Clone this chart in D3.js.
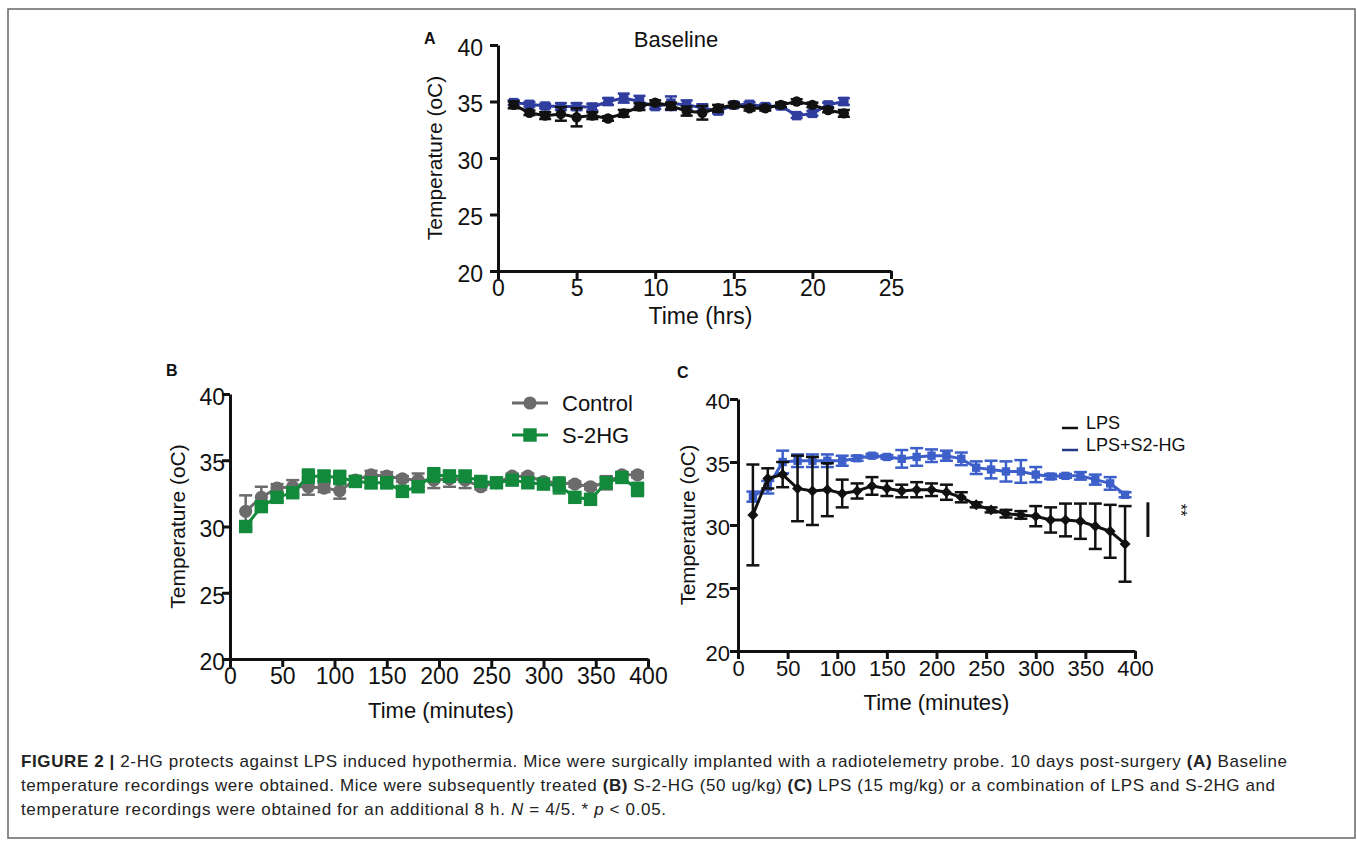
<!DOCTYPE html>
<html>
<head>
<meta charset="utf-8">
<script src="https://cdn.jsdelivr.net/npm/d3@7"></script>
<style>
body { margin: 0; background: #fff; }
svg { display: block; font-family: "Liberation Sans", Arial, sans-serif; }
.axis path, .axis line { stroke: #111; stroke-width: 3; }
.axis text { fill: #111; }
</style>
</head>
<body>
<div id="fig"></div>
<script>
//--------------------------- DATA ---------------------------//
// Panel A - baseline, time in hours
const hoursA = [1,2,3,4,5,6,7,8,9,10,11,12,13,14,15,16,17,18,19,20,21,22];
const baseBlack = [34.7,34.0,33.75,33.9,33.6,33.75,33.5,33.95,34.55,34.9,34.6,34.15,34.0,34.4,34.7,34.4,34.4,34.7,35.0,34.7,34.25,33.95];
const baseBlackErr = [0.3,0.2,0.3,0.6,0.8,0.3,0.2,0.3,0.3,0.2,0.3,0.4,0.6,0.3,0.2,0.2,0.2,0.2,0.2,0.2,0.2,0.3];
const baseBlue = [34.9,34.75,34.6,34.55,34.55,34.5,35.0,35.3,35.0,34.55,34.85,34.7,34.45,34.15,34.7,34.75,34.55,34.6,33.75,33.95,34.7,35.0];
const baseBlueErr = [0.2,0.2,0.2,0.3,0.3,0.3,0.3,0.4,0.5,0.2,0.6,0.4,0.3,0.2,0.2,0.2,0.2,0.2,0.2,0.2,0.2,0.3];

// Panels B and C - time in minutes
const minutes = [15,30,45,60,75,90,105,120,135,150,165,180,195,210,225,240,255,270,285,300,315,330,345,360,375,390];
const control = [31.15,32.2,32.9,33.0,33.0,32.9,32.7,33.5,33.9,33.8,33.6,33.5,33.5,33.6,33.5,33.0,33.3,33.8,33.8,33.4,33.3,33.2,33.0,33.3,33.9,33.9];
const controlErr = [1.2,0.8,0.3,0.5,0.6,0.3,0.6,0.3,0.3,0.3,0.2,0.5,0.6,0.6,0.6,0.2,0.3,0.2,0.2,0.2,0.3,0.2,0.2,0.5,0.2,0.2];
const s2hg = [30.0,31.5,32.2,32.55,33.8,33.8,33.7,33.4,33.3,33.3,32.65,33.0,33.9,33.8,33.8,33.4,33.3,33.5,33.3,33.2,33.1,32.2,32.05,33.3,33.7,32.8];
const s2hgErr = [0.3,0.3,0.3,0.3,0.5,0.4,0.5,0.4,0.4,0.4,0.3,0.3,0.5,0.4,0.4,0.3,0.3,0.3,0.3,0.3,0.6,0.3,0.3,0.4,0.3,0.5];
const lps = [30.8,33.7,34.0,32.9,32.7,32.8,32.5,32.7,33.1,32.9,32.7,32.8,32.8,32.6,32.2,31.6,31.2,30.9,30.8,30.7,30.4,30.4,30.3,29.9,29.5,28.5];
const lpsErr = [4.0,0.8,1.0,2.6,2.7,2.1,1.1,0.6,0.7,0.6,0.5,0.6,0.5,0.6,0.4,0.2,0.2,0.3,0.3,0.8,1.0,1.3,1.4,1.8,2.1,3.0];
const lpsS2hg = [32.25,33.0,35.0,35.1,35.1,35.1,35.1,35.3,35.5,35.4,35.25,35.4,35.5,35.5,35.25,34.55,34.4,34.25,34.25,34.0,33.85,33.9,33.9,33.6,33.3,32.4];
const lpsS2hgErr = [0.4,0.5,0.9,0.5,0.5,0.5,0.4,0.2,0.15,0.15,0.7,0.7,0.5,0.4,0.5,0.5,0.7,0.8,0.9,0.6,0.2,0.15,0.3,0.4,0.5,0.2];

// significance marker in C (minutes, temperature)
const sigX = 413, sigTop = 31.8, sigBottom = 29.05, sigStarX = 440, sigStarY = 31.2;

// ticks
const hourTicks = [0,5,10,15,20,25];
const minuteTicks = [0,50,100,150,200,250,300,350,400];
const tempTicks = [20,25,30,35,40];

//--------------------------- SVG ---------------------------//
const svg = d3.select("#fig").append("svg")
    .attr("width", 1357)
    .attr("height", 845);

// figure frame
svg.append("rect")
    .attr("x", 8).attr("y", 9)
    .attr("width", 1347).attr("height", 829)
    .attr("fill", "none")
    .attr("stroke", "#666")
    .attr("stroke-width", 1.5);

//------------------------- HELPERS -------------------------//
function drawPanel(c) {
    const x = d3.scaleLinear().domain(c.xDomain).range([c.left, c.right]);
    const y = d3.scaleLinear().domain([20, 40]).range([c.bottom, c.top]);
    const g = svg.append("g");

    g.append("g")
        .attr("class", "axis")
        .attr("transform", "translate(0," + c.bottom + ")")
        .call(d3.axisBottom(x).tickValues(c.xTicks).tickSize(8).tickSizeOuter(0).tickPadding(1))
        .call(s => s.selectAll("text").style("font-size", c.tickFont + "px"));

    g.append("g")
        .attr("class", "axis")
        .attr("transform", "translate(" + c.left + ",0)")
        .call(d3.axisLeft(y).tickValues(tempTicks).tickSize(8).tickSizeOuter(0).tickPadding(c.yPad))
        .call(s => s.selectAll("text").style("font-size", c.tickFont + "px").attr("dy", "0.45em"));

    g.append("text")
        .attr("x", (c.left + c.right) / 2 + c.xTitleShift)
        .attr("y", c.xTitleY)
        .attr("text-anchor", "middle")
        .style("font-size", c.titleFont + "px")
        .attr("fill", "#111")
        .text(c.xTitle);

    g.append("text")
        .attr("transform", "translate(" + c.yTitleX + "," + ((c.top + c.bottom) / 2) + ") rotate(-90)")
        .attr("text-anchor", "middle")
        .style("font-size", c.yTitleFont + "px")
        .attr("fill", "#111")
        .text("Temperature (oC)");

    g.append("text")
        .attr("x", c.letterX).attr("y", c.letterY)
        .style("font-size", "16px")
        .style("font-weight", "bold")
        .attr("fill", "#111")
        .text(c.letter);

    return {x: x, y: y, g: g};
}

function drawSeries(p, xs, vals, errs, o) {
    const pts = xs.map((t, i) => ({t: t, v: vals[i], e: errs[i]}));
    const grp = p.g.append("g");

    const eb = grp.selectAll(".eb")
        .data(pts)
        .enter()
        .append("g")
        .attr("stroke", o.color)
        .attr("stroke-width", o.ebWidth);
    eb.append("line")
        .attr("x1", d => p.x(d.t)).attr("x2", d => p.x(d.t))
        .attr("y1", d => p.y(d.v + d.e)).attr("y2", d => p.y(d.v - d.e));
    eb.append("line")
        .attr("x1", d => p.x(d.t) - o.cap).attr("x2", d => p.x(d.t) + o.cap)
        .attr("y1", d => p.y(d.v + d.e)).attr("y2", d => p.y(d.v + d.e));
    eb.append("line")
        .attr("x1", d => p.x(d.t) - o.cap).attr("x2", d => p.x(d.t) + o.cap)
        .attr("y1", d => p.y(d.v - d.e)).attr("y2", d => p.y(d.v - d.e));

    const line = d3.line()
        .x(d => p.x(d.t))
        .y(d => p.y(d.v));
    grp.append("path")
        .attr("d", line(pts))
        .attr("fill", "none")
        .attr("stroke", o.color)
        .attr("stroke-width", o.lw);

    grp.selectAll(".mk")
        .data(pts)
        .enter()
        .append("path")
        .attr("transform", d => "translate(" + p.x(d.t) + "," + p.y(d.v) + ") rotate(" + (o.rotate || 0) + ")")
        .attr("d", d3.symbol().type(o.symbol).size(o.size))
        .attr("fill", o.color);
}

//------------------------- PANEL A -------------------------//
const pA = drawPanel({
    left: 498, right: 891, top: 45, bottom: 271,
    xDomain: [0, 25], xTicks: hourTicks,
    tickFont: 23, titleFont: 23, yTitleFont: 21, yPad: 7,
    xTitle: "Time (hrs)", xTitleY: 324, xTitleShift: 6,
    yTitleX: 442, letter: "A", letterX: 424, letterY: 44
});
pA.g.append("text")
    .attr("x", 676).attr("y", 47)
    .attr("text-anchor", "middle")
    .style("font-size", "22px")
    .attr("fill", "#111")
    .text("Baseline");

drawSeries(pA, hoursA, baseBlue, baseBlueErr,
    {color: "#2f3d9e", lw: 3, ebWidth: 2.5, cap: 6, symbol: d3.symbolSquare, size: 90});
drawSeries(pA, hoursA, baseBlack, baseBlackErr,
    {color: "#111", lw: 3, ebWidth: 2.5, cap: 6, symbol: d3.symbolCircle, size: 85});

//------------------------- PANEL B -------------------------//
const pB = drawPanel({
    left: 230, right: 648, top: 394, bottom: 659,
    xDomain: [0, 400], xTicks: minuteTicks,
    tickFont: 23, titleFont: 22, yTitleFont: 21, yPad: -3,
    xTitle: "Time (minutes)", xTitleY: 718, xTitleShift: 2,
    yTitleX: 185, letter: "B", letterX: 166, letterY: 376
});

drawSeries(pB, minutes, control, controlErr,
    {color: "#6b6b6b", lw: 3, ebWidth: 2.5, cap: 6.5, symbol: d3.symbolCircle, size: 135});
drawSeries(pB, minutes, s2hg, s2hgErr,
    {color: "#13893c", lw: 3, ebWidth: 2.5, cap: 6.5, symbol: d3.symbolSquare, size: 180});

// legend B
const legB = [
    {name: "Control", color: "#6b6b6b", symbol: d3.symbolCircle, size: 135, y: 403},
    {name: "S-2HG", color: "#13893c", symbol: d3.symbolSquare, size: 180, y: 435}
];
const lb = pB.g.selectAll(".legB").data(legB).enter().append("g");
lb.append("line")
    .attr("x1", 512).attr("x2", 548)
    .attr("y1", d => d.y).attr("y2", d => d.y)
    .attr("stroke", d => d.color).attr("stroke-width", 3);
lb.append("path")
    .attr("transform", d => "translate(530," + d.y + ")")
    .attr("d", d => d3.symbol().type(d.symbol).size(d.size)())
    .attr("fill", d => d.color);
lb.append("text")
    .attr("x", 562).attr("y", d => d.y + 8)
    .style("font-size", "22px")
    .attr("fill", "#111")
    .text(d => d.name);

//------------------------- PANEL C -------------------------//
const pC = drawPanel({
    left: 738, right: 1135, top: 399, bottom: 651,
    xDomain: [0, 400], xTicks: minuteTicks,
    tickFont: 22, titleFont: 22, yTitleFont: 20.5, yPad: 0,
    xTitle: "Time (minutes)", xTitleY: 710, xTitleShift: 0,
    yTitleX: 695, letter: "C", letterX: 677, letterY: 378
});

drawSeries(pC, minutes, lpsS2hg, lpsS2hgErr,
    {color: "#3d5fc9", lw: 3, ebWidth: 2.5, cap: 6.5, symbol: d3.symbolSquare, size: 70});
drawSeries(pC, minutes, lps, lpsErr,
    {color: "#111", lw: 3, ebWidth: 2.5, cap: 6.5, symbol: d3.symbolSquare, size: 60, rotate: 45});

// legend C
const legC = [
    {name: "LPS", color: "#111", y: 428},
    {name: "LPS+S2-HG", color: "#24398a", y: 450}
];
const lc = pC.g.selectAll(".legC").data(legC).enter().append("g");
lc.append("line")
    .attr("x1", 1062).attr("x2", 1078)
    .attr("y1", d => d.y).attr("y2", d => d.y)
    .attr("stroke", d => d.color).attr("stroke-width", 2.5);
lc.append("text")
    .attr("x", 1086).attr("y", d => d.y + 1)
    .style("font-size", "18px")
    .attr("fill", "#111")
    .text(d => d.name);

// significance bar and stars
pC.g.append("line")
    .attr("x1", pC.x(sigX)).attr("x2", pC.x(sigX))
    .attr("y1", pC.y(sigTop)).attr("y2", pC.y(sigBottom))
    .attr("stroke", "#111").attr("stroke-width", 3);
pC.g.append("text")
    .attr("transform", "translate(" + pC.x(sigStarX) + "," + pC.y(sigStarY) + ") rotate(90)")
    .attr("text-anchor", "middle")
    .style("font-size", "16px")
    .attr("fill", "#111")
    .text("**");

//------------------------- CAPTION -------------------------//
const captionLines = [
    [["FIGURE 2 | ", "b"], ["2-HG protects against LPS induced hypothermia. Mice were surgically implanted with a radiotelemetry probe. 10 days post-surgery ", ""], ["(A)", "b"], [" Baseline", ""]],
    [["temperature recordings were obtained. Mice were subsequently treated ", ""], ["(B)", "b"], [" S-2-HG (50 ug/kg) ", ""], ["(C)", "b"], [" LPS (15 mg/kg) or a combination of LPS and S-2HG and", ""]],
    [["temperature recordings were obtained for an additional 8 h. ", ""], ["N", "i"], [" = 4/5. * ", ""], ["p", "i"], [" < 0.05.", ""]]
];
const captionWidths = [1266, 1254, 645];

captionLines.forEach(function(parts, i) {
    const t = svg.append("text")
        .attr("x", 21)
        .attr("y", 767 + i * 24)
        .style("font-size", "17px")
        .attr("fill", "#222")
        .attr("textLength", captionWidths[i])
        .attr("lengthAdjust", "spacing");
    parts.forEach(function(p) {
        t.append("tspan")
            .style("font-weight", p[1] === "b" ? "bold" : "normal")
            .style("font-style", p[1] === "i" ? "italic" : "normal")
            .text(p[0]);
    });
});
</script>
</body>
</html>
